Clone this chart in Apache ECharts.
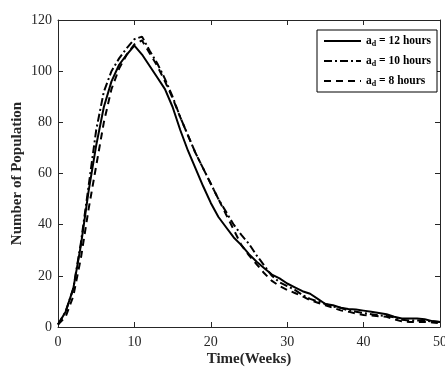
<!DOCTYPE html>
<html>
<head>
<meta charset="utf-8">
<script src="https://cdn.jsdelivr.net/npm/echarts@6/dist/echarts.min.js"></script>
<style>html,body{margin:0;padding:0;background:#fff}#c{width:445px;height:370px}</style>
</head>
<body>
<div id="c"></div>
<script>
var weeks = [];
for (var i = 0; i <= 50; i++) weeks.push(i);
var s12 = [1,6,15,32,53,71,86,96,102.5,106.5,110,106.5,102,97.5,93,86,77,69,62,55,48.5,43,39,35,32,28.5,25.5,23,20.5,19,17,15.5,14,13,11,9,8.5,7.5,7,6.8,6.4,6,5.5,5,4,3.3,3.3,3.3,3,2.3,2];
var s10 = [1,6,15,33,55,77,92,100,105,109,112.5,113.5,108,103,97,90,82,75,68,62,56,50,45,40,36,32.5,28,24,20,17.5,16,14.5,12.5,11,10,9,8,7.5,6.5,6,5.5,5,4.5,4.3,3.8,2.8,2.5,2.5,2.5,2.2,2];
var s8 = [1,4,12,27,46,63,80,93,101,106.5,110.5,112,107,102,96,89.5,82,75,68,62,56,50,44,38,32,28,24.5,21,18,16,14.5,13.3,12,10.5,9.5,8.5,7.5,6.5,6,5.3,4.7,4.5,4.2,4,3,2.2,2,2,2,1.8,1.5];
var hours = ['12', '10', '8'];
var xTicks = [0,10,20,30,40,50];
var yTicks = [0,20,40,60,80,100,120];

function pairs(arr){ return arr.map(function(v,i){ return [weeks[i], v]; }); }
var font = 'Liberation Serif';
var axisCol = '#262626';
var chart = echarts.init(document.getElementById('c'), null, {renderer:'canvas'});
function mkSeries(name, data, type){
  return {name: name, type:'line', data: pairs(data), symbol:'none', smooth:false,
    lineStyle:{color:'#000', width:2, type:type}, itemStyle:{color:'#000'}, z: 3};
}
var baseX = {type:'value', min:xTicks[0], max:xTicks[xTicks.length-1], interval:xTicks[1]-xTicks[0],
  axisLine:{show:true, onZero:false, lineStyle:{color:axisCol, width:1}},
  axisTick:{show:true, inside:true, length:5, lineStyle:{color:axisCol}},
  splitLine:{show:false}};
var baseY = {type:'value', min:yTicks[0], max:yTicks[yTicks.length-1], interval:yTicks[1]-yTicks[0],
  axisLine:{show:true, onZero:false, lineStyle:{color:axisCol, width:1}},
  axisTick:{show:true, inside:true, length:5, lineStyle:{color:axisCol}},
  splitLine:{show:false}};
chart.setOption({
  animation:false,
  backgroundColor:'#fff',
  grid:{left:58, right:5, top:20, bottom:43, containLabel:false, outerBoundsMode:'none'},
  xAxis:[
    Object.assign({}, baseX, {position:'bottom', name:'Time(Weeks)', nameLocation:'middle', nameGap:25, nameMoveOverlap:false,
      nameTextStyle:{fontFamily:font, fontWeight:'bold', fontSize:15, color:axisCol},
      axisLabel:{fontFamily:font, fontSize:14, color:axisCol, margin:8}}),
    Object.assign({}, baseX, {position:'top', axisLabel:{show:false}})
  ],
  yAxis:[
    Object.assign({}, baseY, {position:'left', name:'Number of Population', nameLocation:'middle', nameGap:33, nameMoveOverlap:false,
      nameTextStyle:{fontFamily:font, fontWeight:'bold', fontSize:15, color:axisCol},
      axisLabel:{fontFamily:font, fontSize:14, color:axisCol, margin:6}}),
    Object.assign({}, baseY, {position:'right', axisLabel:{show:false}})
  ],
  legend:{
    right:8, top:30, orient:'vertical', itemWidth:37, itemHeight:10, itemGap:6,
    backgroundColor:'#fff', borderColor:'#000', borderWidth:1, borderRadius:0,
    padding:[4,6,4,6],
    itemStyle:{opacity:0},
    data: hours.map(function(h){ return 'a' + h; }),
    formatter: function(n){
      var h = n.slice(1);
      return '{b|a}{s|d}{b| = ' + h + ' hours}';
    },
    textStyle:{fontFamily:font, fontWeight:'bold', color:'#000',
      rich:{
        b:{fontFamily:font, fontWeight:'bold', fontSize:11.5, color:'#000', lineHeight:14, verticalAlign:'middle'},
        s:{fontFamily:font, fontWeight:'bold', fontSize:8, color:'#000', lineHeight:14, padding:[6,0,0,0], verticalAlign:'middle'}
      }}
  },
  series:[
    mkSeries('a' + hours[0], s12, 'solid'),
    mkSeries('a' + hours[1], s10, [8,3,2,3]),
    mkSeries('a' + hours[2], s8, [7,5])
  ]
});
</script>
</body>
</html>
